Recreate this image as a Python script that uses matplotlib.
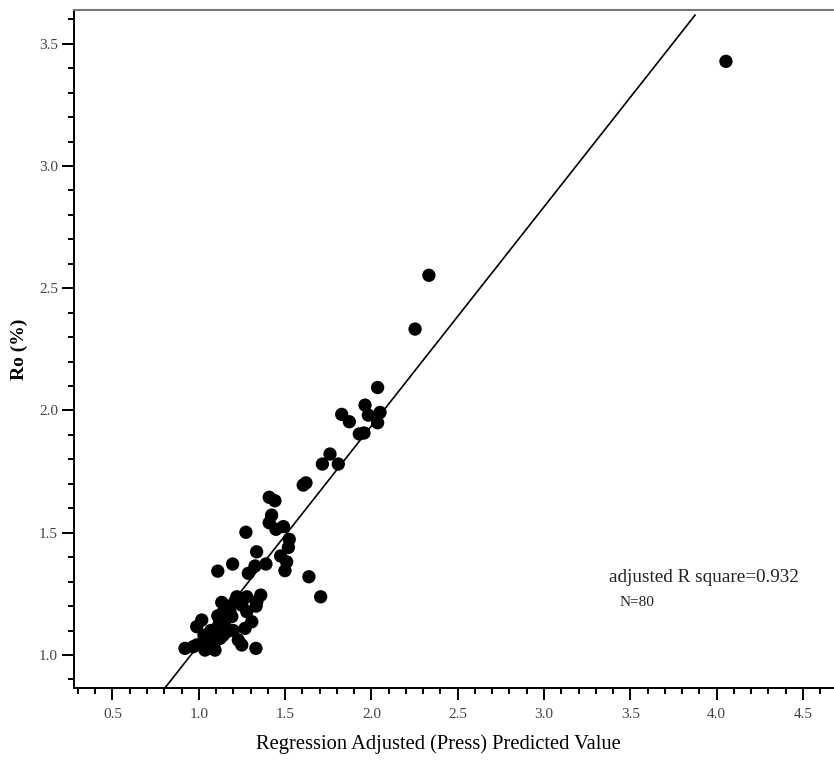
import matplotlib
matplotlib.use("Agg")
import matplotlib.pyplot as plt
from matplotlib.ticker import MultipleLocator
import numpy as np

# Predicted (x) and observed Ro (y) values
pred = [4.054, 2.333, 2.253, 2.036, 1.963, 1.828, 1.872, 1.982, 2.050, 2.036,
        1.930, 1.957, 1.760, 1.716, 1.808, 1.605, 1.621,
        1.408, 1.441, 1.422, 1.408, 1.447, 1.490, 1.273, 1.524, 1.519, 1.335,
        1.474, 1.509, 1.389, 1.326, 1.196, 1.499, 1.287, 1.638, 1.220, 1.278,
        1.359, 1.706, 1.110,
        1.133, 1.336, 1.332, 1.249, 1.278, 1.142, 1.133, 1.191, 1.017, 0.988,
        1.307, 1.268, 1.104, 1.162, 1.065, 1.123, 1.229, 1.249, 1.026, 1.084,
        1.055, 0.988, 0.920, 0.968, 1.036, 1.094, 1.331,
        1.100, 1.070, 1.120, 1.150, 1.180, 1.210, 1.060, 1.110, 1.200, 1.140,
        1.030, 1.160, 1.250]
ro = [3.428, 2.553, 2.333, 2.094, 2.022, 1.984, 1.954, 1.981, 1.992, 1.950,
      1.904, 1.908, 1.822, 1.781, 1.781, 1.695, 1.704,
      1.645, 1.631, 1.572, 1.541, 1.514, 1.525, 1.502, 1.473, 1.440, 1.422,
      1.405, 1.381, 1.372, 1.364, 1.372, 1.345, 1.334, 1.320, 1.238, 1.238,
      1.245, 1.238, 1.343,
      1.215, 1.218, 1.200, 1.204, 1.177, 1.177, 1.157, 1.157, 1.143, 1.116,
      1.136, 1.109, 1.109, 1.095, 1.082, 1.068, 1.061, 1.041, 1.054, 1.041,
      1.027, 1.041, 1.027, 1.034, 1.020, 1.020, 1.027,
      1.060, 1.100, 1.130, 1.120, 1.180, 1.220, 1.050, 1.160, 1.100, 1.080,
      1.080, 1.200, 1.220]

# Fit line parameters and extent
fit_intercept = 0.145
fit_slope = 0.896
fit_x = [0.804, 3.875]

xticks = [0.5, 1.0, 1.5, 2.0, 2.5, 3.0, 3.5, 4.0, 4.5]
yticks = [1.0, 1.5, 2.0, 2.5, 3.0, 3.5]

W, H = 834, 760
fig = plt.figure(figsize=(W / 100, H / 100), dpi=100)
ax = fig.add_axes([74 / W, 72 / H, 760 / W, 678 / H])

ax.scatter(pred, ro, s=92, color="black", edgecolors="none", zorder=3)
fx = np.array(fit_x)
ax.plot(fx, fit_intercept + fit_slope * fx, color="black", lw=1.2, zorder=2)

ax.set_xlim(0.277, 4.68)
ax.set_ylim(0.865, 3.638)

ax.set_xticks(xticks)
ax.set_yticks(yticks)
ax.set_xticklabels([f"{t:.1f}" for t in xticks])
ax.set_yticklabels([f"{t:.1f}" for t in yticks])
ax.xaxis.set_minor_locator(MultipleLocator(0.1))
ax.yaxis.set_minor_locator(MultipleLocator(0.1))

ax.tick_params(which="major", direction="out", length=8.5, width=1.4,
               labelsize=11, labelcolor="#444444")
ax.tick_params(axis="x", which="major", pad=6)
ax.tick_params(axis="y", which="major", pad=3)
ax.tick_params(which="minor", direction="out", length=4.3, width=1.4)
for lab in ax.get_xticklabels() + ax.get_yticklabels():
    lab.set_family("Liberation Serif")

ax.spines["right"].set_visible(False)
ax.spines["top"].set_color("#777777")
ax.spines["top"].set_linewidth(1.5)
ax.spines["left"].set_linewidth(1.4)
ax.spines["bottom"].set_linewidth(1.4)

ax.set_xlabel("Regression Adjusted (Press) Predicted Value",
              family="Liberation Serif", fontsize=14.8)
ax.xaxis.set_label_coords((438.5 - 74) / 760, -(734 - 688) / 678)
ax.set_ylabel("Ro (%)", family="Liberation Serif", fontsize=14,
              fontweight="bold", labelpad=8)

ax.text(609 / W, 1 - 577 / H, "adjusted R square=0.932",
        transform=fig.transFigure, family="Liberation Serif", fontsize=13.8,
        color="#222222", ha="left", va="center")
ax.text(620 / W, 1 - 603 / H, "N=80", transform=fig.transFigure,
        family="Liberation Serif", fontsize=11, color="#222222",
        ha="left", va="center")

fig.savefig("out.png", dpi=100)
